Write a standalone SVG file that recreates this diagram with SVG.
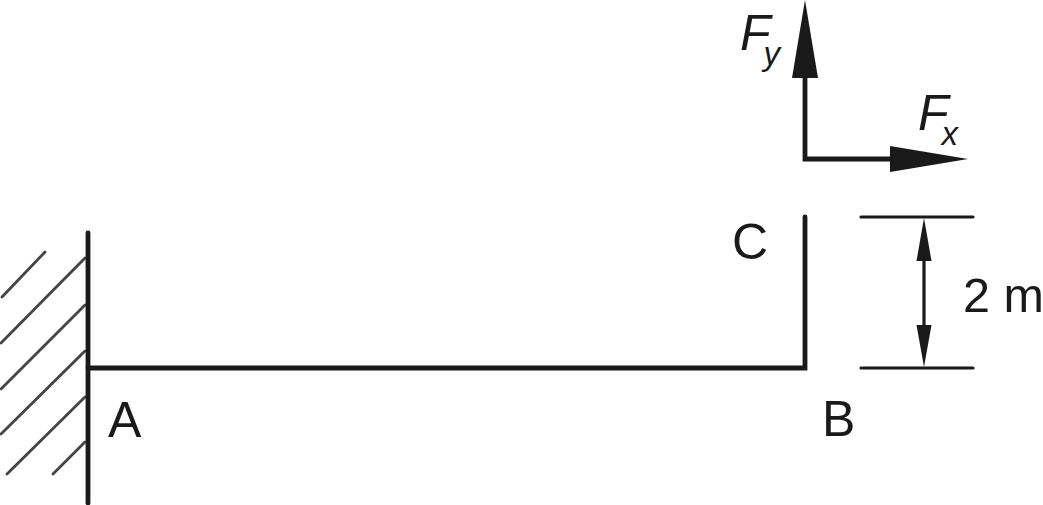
<svg xmlns="http://www.w3.org/2000/svg" width="1043" height="505" viewBox="0 0 1043 505">
<style>
text{font-family:"Liberation Sans",Arial,sans-serif;font-size:50px;fill:#1a1a1a}
.i{font-style:italic}
.s{font-size:33px}
.b{stroke:#1a1a1a;stroke-width:4.8;stroke-linecap:round;fill:none}
.h{stroke:#444;stroke-width:2.8;stroke-linecap:round;fill:none}
.d{stroke:#1a1a1a;stroke-width:3.200;stroke-linecap:round;fill:none}
.a{fill:#1a1a1a}
</style>
<rect width="1043" height="505" fill="#fff"/>
<g id="wall">
<path class="h" d="M45 252L2 297M85 258L1 343M85 305L1 389M85 351L1 434M85 397L7 474M85 442L53 474"/>
<path class="b" d="M88 233V503"/>
</g>
<g id="connectors">
<path class="b" d="M88 368H805V217"/>
<path class="b" d="M805 78V159H890"/>
<path class="a" d="M805 0L818 78H792Z"/>
<path class="a" d="M968 159L890 146V172Z"/>
<path class="d" d="M861 217H973M861 368H973"/>
<path class="d" d="M924 261V325"/>
<path class="a" d="M924 218L931.500 261H916.500Z"/>
<path class="a" d="M924 367L931.500 325H916.500Z"/>
</g>
<g id="node-a"><text x="108" y="437">A</text></g>
<g id="node-b"><text x="822" y="436">B</text></g>
<g id="node-c"><text x="732" y="259">C</text></g>
<g id="label-dim"><text x="963" y="312" style="font-size:48.500px">2 m</text></g>
<g id="label-fy"><text class="i" x="740" y="50">F<tspan class="s" dx="-7" dy="15">y</tspan></text></g>
<g id="label-fx"><text class="i" x="918" y="130">F<tspan class="s" dx="-7" dy="15">x</tspan></text></g>
</svg>
